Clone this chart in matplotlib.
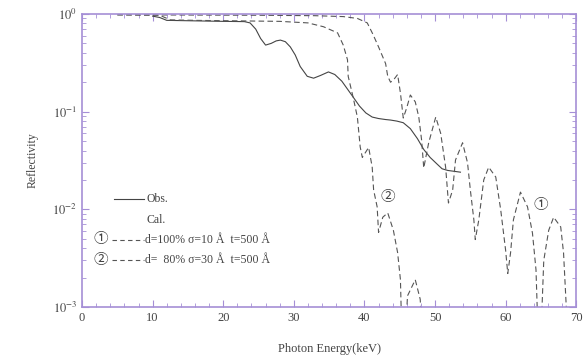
import matplotlib
matplotlib.use("Agg")
import matplotlib.pyplot as plt
from matplotlib.ticker import LogLocator, MultipleLocator, NullFormatter

# observed reflectivity
obs_e = [10.0, 11.0, 12.0, 16.0, 20.0, 23.0, 23.8, 24.6, 25.3, 26.0, 26.8, 27.5, 28.1, 28.8, 29.5, 30.2,
         30.9, 31.9, 32.8, 33.8, 34.9, 35.8, 36.8, 37.6, 38.4, 39.3, 40.2, 41.1, 42.0, 43.0, 43.7, 44.6,
         45.5, 46.5, 47.5, 48.4, 49.3, 50.3, 51.0, 51.8, 52.7, 53.6]
obs_r = [0.95, 0.92, 0.86, 0.85, 0.84, 0.835, 0.81, 0.70, 0.56, 0.48, 0.50, 0.53, 0.54, 0.52, 0.46, 0.38,
         0.29, 0.23, 0.22, 0.235, 0.255, 0.24, 0.205, 0.17, 0.141, 0.114, 0.097, 0.088, 0.085, 0.083, 0.082, 0.08,
         0.077, 0.067, 0.053, 0.041, 0.034, 0.029, 0.026, 0.025, 0.0245, 0.024]

# calc 1: d=100%, sigma=10A
c1_e = [5.0, 15.0, 25.0, 33.0, 37.0, 39.0, 40.4, 41.2, 42.0, 43.0, 43.3, 43.7, 44.2, 44.7, 45.1,
        45.5, 46.0, 46.5, 47.2, 47.7, 48.1, 48.4, 49.1, 50.1, 50.8, 51.5, 51.9, 52.5, 52.9, 53.9,
        54.6, 55.0, 55.5, 55.7, 56.2, 56.9, 57.6, 58.6, 59.3, 60.0, 60.3, 60.7, 61.1, 62.1, 63.1,
        63.8, 64.3, 64.6, 65.0, 65.4, 66.1, 66.8, 67.8, 68.2, 68.8, 69.0]
c1_r = [0.98, 0.975, 0.97, 0.96, 0.94, 0.9, 0.81, 0.62, 0.46, 0.31, 0.23, 0.20, 0.215, 0.24, 0.155,
        0.086, 0.11, 0.148, 0.126, 0.088, 0.051, 0.0265, 0.048, 0.088, 0.06, 0.027, 0.0116, 0.0158, 0.032, 0.048,
        0.030, 0.0158, 0.0078, 0.0049, 0.0078, 0.020, 0.027, 0.0214, 0.0099, 0.0038, 0.0022, 0.0036, 0.0078, 0.015, 0.0106,
        0.0057, 0.0024, 0.0005, 0.0005, 0.003, 0.0061, 0.0083, 0.0066, 0.0036, 0.0005, 0.0005]

# calc 2: d=80%, sigma=30A
c2_e = [5.0, 11.0, 12.5, 16.0, 22.0, 28.0, 32.0, 34.2, 36.2, 37.0, 37.6, 37.7, 38.4, 39.0, 39.4,
        39.7, 40.6, 41.1, 41.3, 41.8, 42.0, 42.6, 43.3, 44.1, 44.7, 45.1, 45.3, 45.8, 46.1, 47.2,
        47.9, 48.2]
c2_r = [0.98, 0.97, 0.87, 0.86, 0.85, 0.84, 0.81, 0.74, 0.64, 0.48, 0.34, 0.23, 0.14, 0.088, 0.0435,
        0.034, 0.043, 0.027, 0.0158, 0.0106, 0.0058, 0.0083, 0.0092, 0.0061, 0.0036, 0.0019, 0.0005, 0.0005, 0.0013, 0.0019,
        0.0012, 0.0005]

frame = "#a58fd6"
ink = "#444444"
plt.rcParams["font.family"] = ["Liberation Serif", "Noto Sans CJK JP", "DejaVu Sans"]
plt.rcParams["mathtext.fontset"] = "stix"

fig = plt.figure(figsize=(5.88, 3.58), dpi=100)
ax = fig.add_axes([0.1395, 0.1425, 0.8405, 0.8185])

ax.plot(obs_e, obs_r, color=ink, lw=0.8)
ax.plot(c1_e, c1_r, color="#555555", lw=0.8, dashes=(5, 3))
ax.plot(c2_e, c2_r, color="#555555", lw=0.8, dashes=(5, 3))

ax.set_yscale("log")
ax.set_xlim(0, 70)
ax.set_ylim(1e-3, 1)
ax.xaxis.set_major_locator(MultipleLocator(10))
ax.xaxis.set_minor_locator(MultipleLocator(2))
ax.yaxis.set_minor_locator(LogLocator(base=10, subs=range(2, 10), numticks=10))
ax.yaxis.set_minor_formatter(NullFormatter())
ax.set_yticks([1e-3, 1e-2, 1e-1, 1])
ax.set_yticklabels([r"$10^{-3}$", r"$10^{-2}$", r"$10^{-1}$", r"$10^{0}$"])

for s in ax.spines.values():
    s.set_color(frame)
    s.set_linewidth(1.2)
ax.tick_params(which="both", direction="in", top=True, right=True, color=frame, labelsize=9, labelcolor=ink)
ax.tick_params(which="major", length=5)
ax.tick_params(which="minor", length=3)

ax.set_xlabel("Photon Energy(keV)", fontsize=9, color=ink, labelpad=14)
ax.set_ylabel("Reflectivity", fontsize=8.5, color=ink, labelpad=10)

# legend drawn by hand
ax.plot([4.5, 8.8], [0.0128, 0.0128], color=ink, lw=0.8)
ax.text(9.2, 0.0128, "Obs.", fontsize=8.5, color=ink, va="center")
ax.text(9.2, 0.0078, "Cal.", fontsize=8.5, color=ink, va="center")
ax.text(1.6, 0.0049, "①", fontsize=10.5, color=ink, va="center")
ax.plot([4.3, 8.8], [0.0049, 0.0049], color="#555555", lw=0.8, dashes=(4, 3))
ax.text(8.9, 0.0049, "d=100% σ=10 Å  t=500 Å", fontsize=8.5, color=ink, va="center")
ax.text(1.6, 0.0030, "②", fontsize=10.5, color=ink, va="center")
ax.plot([4.3, 8.8], [0.0030, 0.0030], color="#555555", lw=0.8, dashes=(4, 3))
ax.text(8.9, 0.0030, "d=  80% σ=30 Å  t=500 Å", fontsize=8.5, color=ink, va="center")

ax.text(43.3, 0.0131, "②", fontsize=10.5, color=ink, ha="center", va="center")
ax.text(65.0, 0.011, "①", fontsize=10.5, color=ink, ha="center", va="center")

fig.savefig("out.png", dpi=100)
